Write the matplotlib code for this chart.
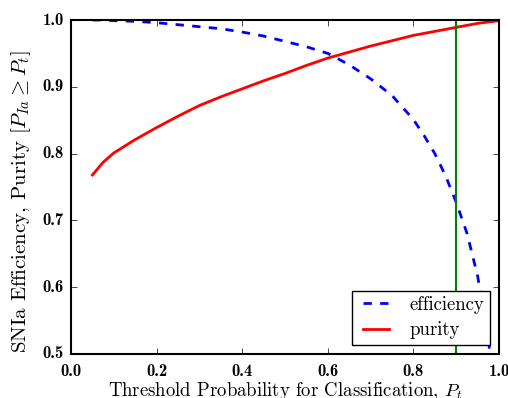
import numpy as np
import matplotlib
matplotlib.use('Agg')
import matplotlib.pyplot as plt

plt.style.use('classic')
plt.rcParams['font.family'] = 'serif'
plt.rcParams['font.serif'] = ['cmr10']
plt.rcParams['mathtext.fontset'] = 'cm'
plt.rcParams['axes.unicode_minus'] = False

# threshold probability grid
threshold = [0.05, 0.075, 0.10, 0.15, 0.20, 0.25, 0.30, 0.35, 0.40, 0.45, 0.50, 0.55, 0.60,
             0.65, 0.70, 0.75, 0.80, 0.825, 0.85, 0.875, 0.90, 0.925, 0.95, 0.975, 1.00]
efficiency = [1.000, 1.000, 0.999, 0.998, 0.996, 0.993, 0.990, 0.987, 0.982, 0.976, 0.968, 0.960, 0.950,
              0.933, 0.912, 0.887, 0.851, 0.827, 0.800, 0.767, 0.727, 0.681, 0.617, 0.521, 0.39]
purity = [0.768, 0.787, 0.801, 0.821, 0.839, 0.856, 0.872, 0.885, 0.897, 0.909, 0.920, 0.932, 0.943,
          0.952, 0.961, 0.969, 0.977, 0.980, 0.983, 0.986, 0.989, 0.992, 0.995, 0.997, 0.999]
p_cut = 0.9

xticks = [0.0, 0.2, 0.4, 0.6, 0.8, 1.0]
yticks = [0.5, 0.6, 0.7, 0.8, 0.9, 1.0]

fig = plt.figure(figsize=(5.08, 3.98), dpi=100)
ax = fig.add_axes([0.1398, 0.1106, 0.8425, 0.8391])
ax.plot(threshold, efficiency, color='b', linestyle='--', linewidth=2, label='efficiency')
ax.plot(threshold, purity, color='r', linestyle='-', linewidth=2, label='purity')
ax.axvline(p_cut, color='g', linewidth=1.5)

ax.set_xlim(0, 1)
ax.set_ylim(0.5, 1.0)
ax.set_xticks(xticks)
ax.set_yticks(yticks)
ax.set_xticklabels(['%.1f' % t for t in xticks], fontfamily='cmb10', fontsize=12)
ax.set_yticklabels(['%.1f' % t for t in yticks], fontfamily='cmb10', fontsize=12)
ax.tick_params(axis='x', pad=7)
ax.tick_params(axis='y', pad=5)
for s in ax.spines.values():
    s.set_linewidth(1.5)

ax.set_xlabel('Threshold Probability for Classification, $P_t$', fontsize=13.5)
ax.set_ylabel('SNIa Efficiency, Purity [$P_{Ia}\\geq P_t$]', fontsize=15)
ax.xaxis.set_label_coords(0.5, -0.078)
ax.yaxis.set_label_coords(-0.088, 0.455)
ax.legend(loc='lower right', fontsize=13.5, labelspacing=0.4, borderpad=0.28)

fig.savefig('out.png', dpi=100)
